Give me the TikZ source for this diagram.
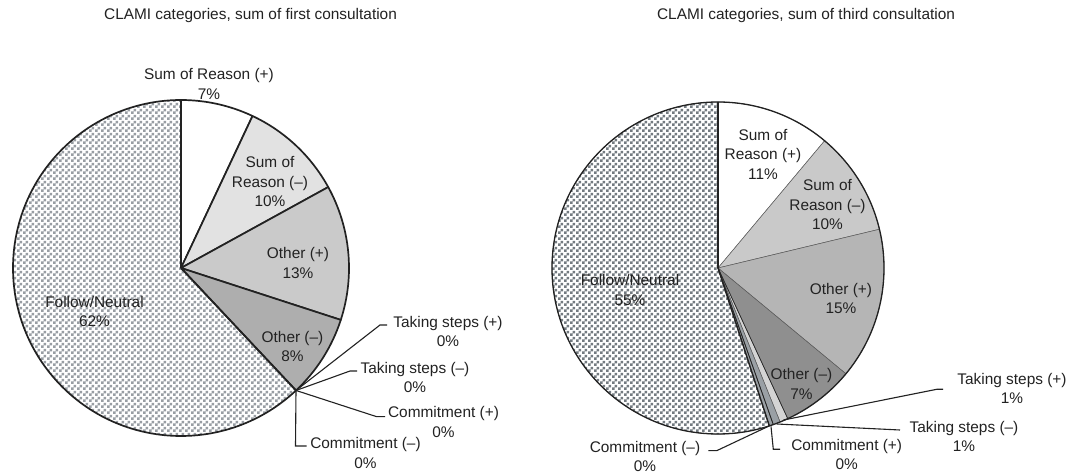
\documentclass[tikz,border=0pt]{standalone}
\usepackage{fontspec}
\setmainfont{Liberation Sans}
\usetikzlibrary{patterns,calc}
\pgfdeclarepatternformonly{chk}{\pgfpointorigin}{\pgfpoint{6pt}{6pt}}{\pgfpoint{6pt}{6pt}}{%
  \pgfpathrectangle{\pgfpointorigin}{\pgfpoint{3pt}{3pt}}%
  \pgfpathrectangle{\pgfpoint{3pt}{3pt}}{\pgfpoint{3pt}{3pt}}%
  \pgfusepath{fill}}
\definecolor{ink}{HTML}{222222}
\definecolor{lgA}{HTML}{E2E2E2}
\definecolor{lgB}{HTML}{CACACA}
\definecolor{lgC}{HTML}{AEAEAE}
\definecolor{lchk}{HTML}{989DA3}
\definecolor{rgA}{HTML}{C9C9C9}
\definecolor{rgB}{HTML}{B5B5B5}
\definecolor{rgC}{HTML}{8F8F8F}
\definecolor{rgD}{HTML}{D4D4D4}
\definecolor{rgE}{HTML}{9AA0A5}
\definecolor{rchk}{HTML}{737A80}
\begin{document}
\begin{tikzpicture}[x=1pt,y=1pt,
  lbl/.style={font=\fontsize{15.4}{19.5}\selectfont, text=ink, align=center, inner sep=0pt},
  lead/.style={draw=ink, line width=1.1pt, line join=miter},
  lslice/.style={draw=ink, line width=1.7pt, line join=round},
  rslice/.style={draw=ink!75, line width=0.5pt, line join=round},
  rbold/.style={draw=ink, line width=1.4pt}]
\useasboundingbox (0,0) rectangle (1069,474);
\fill[white] (0,0) rectangle (1069,474);

% ---------- left pie ----------
\coordinate (L) at (181,206);
\filldraw[lslice, fill=white] (L) -- ++(90:168) arc[start angle=90,end angle=64.8,radius=168] -- cycle;
\filldraw[lslice, fill=lgA] (L) -- ++(64.8:168) arc[start angle=64.8,end angle=28.8,radius=168] -- cycle;
\filldraw[lslice, fill=lgB] (L) -- ++(28.8:168) arc[start angle=28.8,end angle=-18,radius=168] -- cycle;
\filldraw[lslice, fill=lgC] (L) -- ++(-18:168) arc[start angle=-18,end angle=-46.8,radius=168] -- cycle;
\draw[lslice, pattern=chk, pattern color=lchk] (L) -- ++(-46.8:168) arc[start angle=-46.8,end angle=-270,radius=168] -- cycle;

\node[lbl] (t1) at (250.5,458) {CLAMI categories, sum of first consultation};
\node[lbl] (lSRp) at (209,390) {Sum of Reason (+)\\7\%};
\node[lbl] (lSRm) at (270,292) {Sum of\\Reason (–)\\10\%};
\node[lbl] (lOp) at (298,211) {Other (+)\\13\%};
\node[lbl] (lOm) at (292.5,127.5) {Other (–)\\8\%};
\node[lbl] (lFN) at (94.5,162.5) {Follow/Neutral\\62\%};
\node[lbl] (lTSp) at (448,142.3) {Taking steps (+)\\0\%};
\node[lbl] (lTSm) at (415,96.5) {Taking steps (–)\\0\%};
\node[lbl] (lCp) at (443.5,51.8) {Commitment (+)\\0\%};
\node[lbl] (lCm) at (365.5,21) {Commitment (–)\\0\%};

\coordinate (lp) at ($(L)+(-46.8:168)$);
\coordinate (lA1) at (380,149); \coordinate (lA2) at (387,149);
\coordinate (lB1) at (350,103); \coordinate (lB2) at (357,103);
\coordinate (lC1) at (376.7,57.3); \coordinate (lC2) at (385,57.3);
\coordinate (lD1) at (295.5,28); \coordinate (lD2) at (306.7,28);
\draw[lead] (lp) -- (lA1) -- (lA2);
\draw[lead] (lp) -- (lB1) -- (lB2);
\draw[lead] (lp) -- (lC1) -- (lC2);
\draw[lead] (lp) -- (lD1) -- (lD2);

% ---------- right pie ----------
\coordinate (R) at (718,206);
\filldraw[rslice, fill=white] (R) -- ++(90:166) arc[start angle=90,end angle=50.04,radius=166] -- cycle;
\filldraw[rslice, fill=rgA] (R) -- ++(50.04:166) arc[start angle=50.04,end angle=13.5,radius=166] -- cycle;
\filldraw[rslice, fill=rgB] (R) -- ++(13.5:166) arc[start angle=13.5,end angle=-39.6,radius=166] -- cycle;
\filldraw[rslice, fill=rgC] (R) -- ++(-39.6:166) arc[start angle=-39.6,end angle=-65.16,radius=166] -- cycle;
\filldraw[rslice, fill=rgD] (R) -- ++(-65.16:166) arc[start angle=-65.16,end angle=-68.04,radius=166] -- cycle;
\filldraw[rslice, fill=rgE] (R) -- ++(-68.04:166) arc[start angle=-68.04,end angle=-70.56,radius=166] -- cycle;
\filldraw[rslice, fill=rgE] (R) -- ++(-70.56:166) arc[start angle=-70.56,end angle=-72,radius=166] -- cycle;
\draw[rslice, pattern=chk, pattern color=rchk] (R) -- ++(-72:166) arc[start angle=-72,end angle=-270,radius=166] -- cycle;
\draw[ink, line width=1.3pt] (R) circle[radius=166];
\draw[rbold, line width=2pt] (R) -- ++(90:166);
\draw[rbold] (R) -- ++(-72:166);
\draw[ink, line width=0.8pt] (R) -- ++(-70.56:166);
\draw[ink, line width=0.6pt] (R) -- ++(-65.16:166);

\node[lbl] (t2) at (806,458) {CLAMI categories, sum of third consultation};
\node[lbl] (rSRp) at (763,319.7) {Sum of\\Reason (+)\\11\%};
\node[lbl] (rSRm) at (827.5,269) {Sum of\\Reason (–)\\10\%};
\node[lbl] (rOp) at (841,175.5) {Other (+)\\15\%};
\node[lbl] (rOm) at (801.5,90) {Other (–)\\7\%};
\node[lbl] (rFN) at (630,184) {Follow/Neutral\\55\%};
\node[lbl] (rTSp) at (1012,85.3) {Taking steps (+)\\1\%};
\node[lbl] (rTSm) at (964,37.3) {Taking steps (–)\\1\%};
\node[lbl] (rCp) at (846.7,19.5) {Commitment (+)\\0\%};
\node[lbl] (rCm) at (645,17.5) {Commitment (–)\\0\%};

\coordinate (rA0) at (783.5,54); \coordinate (rA1) at (936.7,84.7); \coordinate (rA2) at (943,84.7);
\coordinate (rB0) at (776.7,50); \coordinate (rB1) at (900,44);
\coordinate (rC0) at (771,47.5); \coordinate (rC1) at (773.3,24.7); \coordinate (rC2) at (780,24.7);
\coordinate (rD0) at ($(R)+(-72:166)$); \coordinate (rD1) at (716.7,23.3); \coordinate (rD2) at (708.3,23.3);
\draw[lead] (rA0) -- (rA1) -- (rA2);
\draw[lead] (rB0) -- (rB1);
\draw[lead] (rC0) -- (rC1) -- (rC2);
\draw[lead] (rD0) -- (rD1) -- (rD2);
\end{tikzpicture}
\end{document}
